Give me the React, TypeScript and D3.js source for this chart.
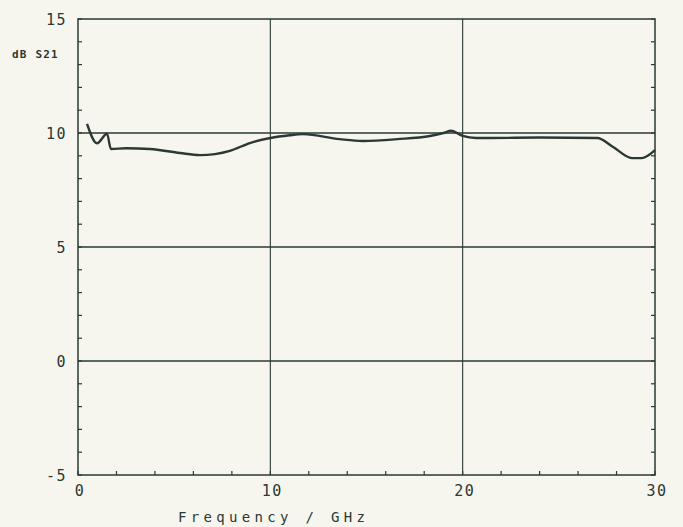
import React, { useEffect, useRef } from 'react';
import * as d3 from 'd3';

// S21 gain trace
const freqGHz = [0.47, 0.99, 1.51, 1.71, 2.5, 3.74, 5.3, 6.34, 7.9, 8.94, 10.0, 11.0, 11.7, 13.6, 14.8, 16.6, 18.3, 19.0, 19.4, 20.0, 20.7, 21.4, 24.0, 27.0, 27.8, 28.8, 29.3, 30.0];
const s21dB = [10.4, 9.55, 9.97, 9.3, 9.33, 9.3, 9.12, 9.03, 9.22, 9.56, 9.78, 9.9, 9.95, 9.73, 9.65, 9.73, 9.87, 10.0, 10.1, 9.87, 9.78, 9.78, 9.8, 9.78, 9.4, 8.9, 8.9, 9.25];

const xTickLabels = [0, 10, 20, 30];
const yTickLabels = [-5, 0, 5, 10, 15];
const xGridLines = [10, 20];
const yGridLines = [0, 5, 10];

const App = () => {
  const svgRef = useRef(null);

  useEffect(() => {
    const W = 683;
    const H = 527;
    const left = 78, right = 655, top = 19, bottom = 475;
    const ink = '#2b3833';
    const mono = '"DejaVu Sans Mono", "Liberation Mono", monospace';

    const svg = d3.select(svgRef.current);
    svg.selectAll('*').remove();
    svg.attr('width', W).attr('height', H);

    svg.append('rect').attr('width', W).attr('height', H).attr('fill', '#f6f6ef');

    const x = d3.scaleLinear().domain([0, 30]).range([left, right]);
    const y = d3.scaleLinear().domain([-5, 15]).range([bottom, top]);

    // minor ticks (inward) on left, right and bottom
    const g = svg.append('g').attr('stroke', ink).attr('stroke-width', 1.2);
    d3.range(-5, 16, 1).forEach(v => {
      g.append('line').attr('x1', x(0)).attr('x2', x(0) + 4).attr('y1', y(v)).attr('y2', y(v));
      g.append('line').attr('x1', x(30)).attr('x2', x(30) - 4).attr('y1', y(v)).attr('y2', y(v));
    });
    d3.range(0, 31, 2).forEach(v => {
      g.append('line').attr('x1', x(v)).attr('x2', x(v)).attr('y1', y(-5)).attr('y2', y(-5) - 4);
    });

    // grid lines
    xGridLines.forEach(v => {
      g.append('line').attr('x1', x(v)).attr('x2', x(v)).attr('y1', y(15)).attr('y2', y(-5)).attr('stroke-width', 1.1);
    });
    yGridLines.forEach(v => {
      g.append('line').attr('x1', x(0)).attr('x2', x(30)).attr('y1', y(v)).attr('y2', y(v)).attr('stroke-width', 1.6);
    });

    // frame
    svg.append('rect')
      .attr('x', x(0)).attr('y', y(15))
      .attr('width', x(30) - x(0)).attr('height', y(-5) - y(15))
      .attr('fill', 'none').attr('stroke', ink).attr('stroke-width', 1.5);

    // trace
    const line = d3.line()
      .x((d, i) => x(freqGHz[i]))
      .y(d => y(d))
      .curve(d3.curveMonotoneX);
    svg.append('path')
      .attr('d', line(s21dB))
      .attr('fill', 'none')
      .attr('stroke', ink)
      .attr('stroke-width', 2.4)
      .attr('stroke-linejoin', 'round');

    // tick labels
    yTickLabels.forEach(v => {
      svg.append('text')
        .attr('x', 67).attr('y', y(v) + 5.5)
        .attr('text-anchor', 'end')
        .attr('font-family', mono).attr('font-size', 15)
        .attr('letter-spacing', 1.5)
        .attr('fill', ink)
        .text(v);
    });
    xTickLabels.forEach(v => {
      svg.append('text')
        .attr('x', x(v) + 2).attr('y', 496)
        .attr('text-anchor', 'middle')
        .attr('font-family', mono).attr('font-size', 15)
        .attr('letter-spacing', 1.5)
        .attr('fill', ink)
        .text(v);
    });

    svg.append('text')
      .attr('x', 12).attr('y', 58)
      .attr('font-family', mono).attr('font-size', 11).attr('font-weight', 'bold')
      .attr('letter-spacing', 1.2)
      .attr('fill', ink)
      .text('dB S21');

    svg.append('text')
      .attr('x', 178).attr('y', 522)
      .attr('font-family', mono).attr('font-size', 14)
      .attr('textLength', 187).attr('lengthAdjust', 'spacing')
      .attr('fill', ink)
      .text('Frequency / GHz');
  }, []);

  return <svg ref={svgRef} style={{ position: 'absolute', left: 0, top: 0 }}></svg>;
};

export default App;
